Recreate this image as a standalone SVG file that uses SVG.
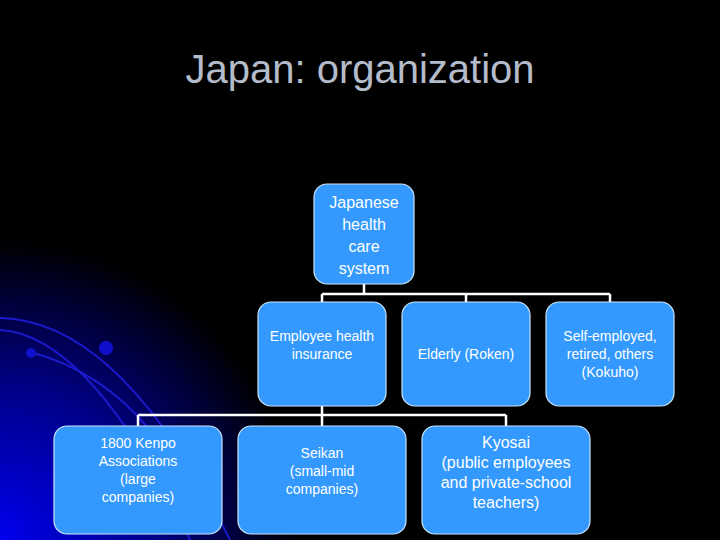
<svg xmlns="http://www.w3.org/2000/svg" width="720" height="540" viewBox="0 0 720 540">
<style>
.n{fill:#3399ff;stroke:#cfe3f7;stroke-width:1.2}
.t{font-family:"Liberation Sans",Arial,sans-serif;fill:#fff;text-anchor:middle}
.s{font-size:14px}
.c{stroke:#fff;stroke-width:2.5;fill:none}
.arc{fill:none;stroke:#1a1acc;stroke-width:2}
</style>
<defs>
<radialGradient id="bg" cx="0" cy="540" r="300" gradientUnits="userSpaceOnUse">
<stop offset="0" stop-color="#0000ee"/><stop offset="0.5" stop-color="#00008a"/><stop offset="1" stop-color="#000"/>
</radialGradient>
</defs>
<rect width="720" height="540" fill="#000"/>
<rect width="720" height="540" fill="url(#bg)"/>
<path class="arc" d="M0 318 Q120 320 230 540"/>
<path class="arc" d="M0 330 Q90 335 190 540"/>
<path class="arc" d="M30 352 Q100 370 150 430"/>
<circle cx="106" cy="348" r="7" fill="#1010cc"/>
<circle cx="31" cy="353" r="5" fill="#1010cc"/>
<text class="t" x="360" y="83" font-size="40" fill="#aab3c8" style="fill:#b4bccb">Japan: organization</text>
<g id="connectors">
<path class="c" d="M364 284V294M322 294H610M322 294V302M466 294V302M610 294V302M322 406V415M138 415H506M138 415V426M322 415V426M506 415V426"/>
</g>
<g id="root"><rect class="n" x="314" y="184" width="100" height="100" rx="13"/>
<text class="t" x="364" y="208" font-size="16"><tspan x="364">Japanese</tspan><tspan x="364" dy="22">health</tspan><tspan x="364" dy="22">care</tspan><tspan x="364" dy="22">system</tspan></text></g>
<g id="employee"><rect class="n" x="258" y="302" width="128" height="104" rx="13"/>
<text class="t s" x="322" y="341"><tspan x="322">Employee health</tspan><tspan x="322" dy="18">insurance</tspan></text></g>
<g id="elderly"><rect class="n" x="402" y="302" width="128" height="104" rx="13"/>
<text class="t s" x="466" y="359">Elderly (Roken)</text></g>
<g id="self"><rect class="n" x="546" y="302" width="128" height="104" rx="13"/>
<text class="t s" x="610" y="341"><tspan x="610">Self-employed,</tspan><tspan x="610" dy="18">retired, others</tspan><tspan x="610" dy="18">(Kokuho)</tspan></text></g>
<g id="kenpo"><rect class="n" x="54" y="426" width="168" height="108" rx="13"/>
<text class="t s" x="138" y="448"><tspan x="138">1800 Kenpo</tspan><tspan x="138" dy="18">Associations</tspan><tspan x="138" dy="18">(large</tspan><tspan x="138" dy="18">companies)</tspan></text></g>
<g id="seikan"><rect class="n" x="238" y="426" width="168" height="108" rx="13"/>
<text class="t s" x="322" y="458"><tspan x="322">Seikan</tspan><tspan x="322" dy="18">(small-mid</tspan><tspan x="322" dy="18">companies)</tspan></text></g>
<g id="kyosai"><rect class="n" x="422" y="426" width="168" height="108" rx="13"/>
<text class="t" x="506" y="448" font-size="16"><tspan x="506">Kyosai</tspan><tspan x="506" dy="20">(public employees</tspan><tspan x="506" dy="20">and private-school</tspan><tspan x="506" dy="20">teachers)</tspan></text></g>
</svg>
